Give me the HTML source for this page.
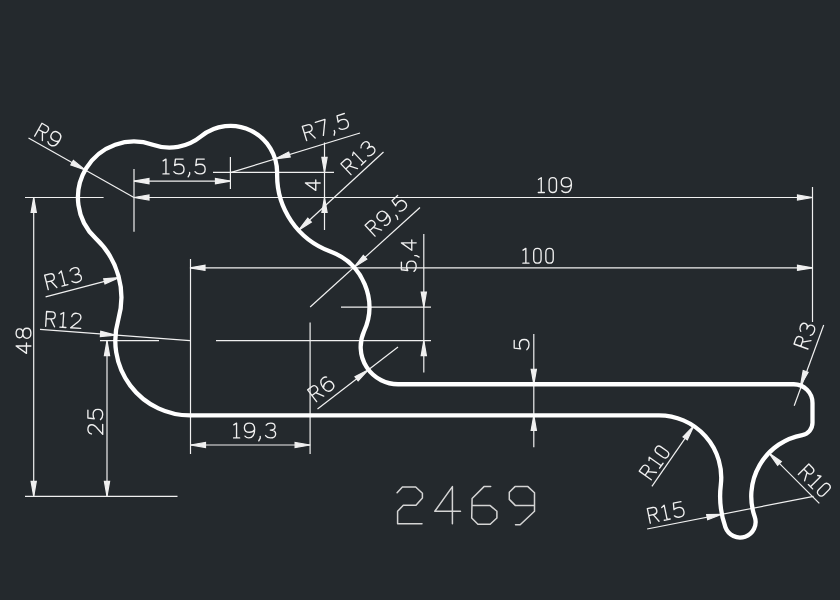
<!DOCTYPE html>
<html><head><meta charset="utf-8"><style>
html,body{margin:0;padding:0;background:#24292d;}
body{width:840px;height:600px;overflow:hidden;font-family:"Liberation Sans",sans-serif;}
svg{display:block;}
</style></head><body>
<svg width="840" height="600" viewBox="0 0 840 600">
<rect width="840" height="600" fill="#24292d"/>
<g stroke="#f0f0f0" stroke-width="1.2" fill="#f0f0f0">
<line x1="133.98" y1="197.50" x2="812.50" y2="197.50"/>
<polygon points="133.98,197.50 148.98,194.90 148.98,200.10"/>
<polygon points="812.50,197.50 797.50,200.10 797.50,194.90"/>
<line x1="190.00" y1="267.80" x2="812.50" y2="267.80"/>
<polygon points="190.00,267.80 205.00,265.20 205.00,270.40"/>
<polygon points="812.50,267.80 797.50,270.40 797.50,265.20"/>
<line x1="812.50" y1="187.00" x2="812.50" y2="322.00"/>
<line x1="190.50" y1="259.00" x2="190.50" y2="454.00"/>
<line x1="33.70" y1="197.50" x2="33.70" y2="496.30"/>
<polygon points="33.70,197.50 36.30,212.50 31.10,212.50"/>
<polygon points="33.70,496.30 31.10,481.30 36.30,481.30"/>
<line x1="25.00" y1="197.50" x2="103.60" y2="197.50"/>
<line x1="25.00" y1="496.30" x2="177.50" y2="496.30"/>
<line x1="107.00" y1="340.67" x2="107.00" y2="496.30"/>
<polygon points="107.00,340.67 109.60,355.67 104.40,355.67"/>
<polygon points="107.00,496.30 104.40,481.30 109.60,481.30"/>
<line x1="100.00" y1="340.67" x2="159.00" y2="340.67"/>
<line x1="190.50" y1="445.00" x2="310.10" y2="445.00"/>
<polygon points="190.50,445.00 205.50,442.40 205.50,447.60"/>
<polygon points="310.10,445.00 295.10,447.60 295.10,442.40"/>
<line x1="310.10" y1="322.50" x2="310.10" y2="454.00"/>
<line x1="216.00" y1="340.67" x2="431.00" y2="340.67"/>
<line x1="423.80" y1="234.00" x2="423.80" y2="372.50"/>
<polygon points="423.80,307.06 421.20,292.06 426.40,292.06"/>
<polygon points="423.80,340.67 426.40,355.67 421.20,355.67"/>
<line x1="341.00" y1="307.06" x2="431.00" y2="307.06"/>
<line x1="133.98" y1="181.10" x2="230.46" y2="181.10"/>
<polygon points="133.98,181.10 148.98,178.50 148.98,183.70"/>
<polygon points="230.46,181.10 215.46,183.70 215.46,178.50"/>
<line x1="134.00" y1="169.00" x2="134.00" y2="231.80"/>
<line x1="230.40" y1="157.00" x2="230.40" y2="189.00"/>
<line x1="213.00" y1="172.30" x2="334.00" y2="172.30"/>
<line x1="324.50" y1="142.50" x2="324.50" y2="230.00"/>
<polygon points="324.50,172.30 321.90,157.30 327.10,157.30"/>
<polygon points="324.50,197.50 327.10,212.50 321.90,212.50"/>
<line x1="28.50" y1="138.00" x2="133.98" y2="197.50"/>
<polygon points="85.18,169.97 70.82,164.92 73.36,160.38"/>
<line x1="230.46" y1="172.60" x2="360.00" y2="133.00"/>
<polygon points="275.11,158.95 288.69,152.08 290.22,157.05"/>
<line x1="298.51" y1="230.26" x2="383.50" y2="152.00"/>
<polygon points="298.51,230.26 307.79,218.19 311.31,222.01"/>
<line x1="310.14" y1="307.06" x2="420.00" y2="207.50"/>
<polygon points="353.96,267.35 363.33,255.35 366.82,259.20"/>
<line x1="317.50" y1="409.00" x2="398.02" y2="346.90"/>
<polygon points="368.44,369.71 358.15,380.93 354.98,376.81"/>
<line x1="533.80" y1="334.00" x2="533.80" y2="447.20"/>
<polygon points="533.80,384.25 531.20,369.25 536.40,369.25"/>
<polygon points="533.80,415.37 536.40,430.37 531.20,430.37"/>
<line x1="794.20" y1="405.80" x2="823.70" y2="325.00"/>
<polygon points="800.51,385.49 803.21,370.51 808.10,372.29"/>
<line x1="651.90" y1="486.30" x2="693.71" y2="425.95"/>
<polygon points="693.71,425.95 687.30,439.76 683.03,436.80"/>
<line x1="768.88" y1="452.89" x2="819.30" y2="503.30"/>
<polygon points="768.88,452.89 781.33,461.66 777.65,465.34"/>
<line x1="647.10" y1="529.00" x2="813.50" y2="496.30"/>
<polygon points="721.88,514.31 707.66,519.75 706.66,514.65"/>
<line x1="45.60" y1="296.90" x2="118.90" y2="277.64"/>
<polygon points="118.90,277.64 105.00,283.85 103.73,278.81"/>
<line x1="40.00" y1="329.40" x2="190.00" y2="340.67"/>
<polygon points="115.51,335.08 100.36,336.54 100.75,331.36"/>
</g>
<g transform="translate(537.10,193.80) rotate(0.00) translate(0.6,-1.3) scale(1.4800)" fill="none" stroke="#f0f0f0" stroke-width="0.912" stroke-linecap="round" stroke-linejoin="round"><path transform="translate(0.00,0)" d="M0.5,-8.8 L2.4,-10 V0 M0.4,0 H4.5"/><path transform="translate(7.70,0)" d="M0,-7.3 C0,-9.1 1,-10 2.5,-10 C4,-10 5,-9.1 5,-7.3 V-2.7 C5,-0.9 4,0 2.5,0 C1,0 0,-0.9 0,-2.7 Z"/><path transform="translate(15.90,0)" d="M6.9,-5.6 C6.3,-4.5 5.2,-3.8 3.5,-3.8 C1.3,-3.8 0,-5.1 0,-6.9 C0,-8.8 1.4,-10 3.5,-10 C5.7,-10 6.9,-8.6 6.9,-5.6 C6.9,-2 5.4,0 3,0 C1.9,0 1,-0.4 0.4,-1.2"/></g>
<g transform="translate(521.70,264.50) rotate(0.00) translate(0.6,-1.3) scale(1.4800)" fill="none" stroke="#f0f0f0" stroke-width="0.912" stroke-linecap="round" stroke-linejoin="round"><path transform="translate(0.00,0)" d="M0.5,-8.8 L2.4,-10 V0 M0.4,0 H4.5"/><path transform="translate(7.70,0)" d="M0,-7.3 C0,-9.1 1,-10 2.5,-10 C4,-10 5,-9.1 5,-7.3 V-2.7 C5,-0.9 4,0 2.5,0 C1,0 0,-0.9 0,-2.7 Z"/><path transform="translate(15.90,0)" d="M0,-7.3 C0,-9.1 1,-10 2.5,-10 C4,-10 5,-9.1 5,-7.3 V-2.7 C5,-0.9 4,0 2.5,0 C1,0 0,-0.9 0,-2.7 Z"/></g>
<g transform="translate(32.20,354.00) rotate(-90.00) translate(0.6,-1.3) scale(1.4800)" fill="none" stroke="#f0f0f0" stroke-width="0.912" stroke-linecap="round" stroke-linejoin="round"><path transform="translate(0.00,0)" d="M5,0 V-10 L0,-3 H7"/><path transform="translate(10.20,0)" d="M3.4,-5.4 C1.5,-5.4 0.4,-6.3 0.4,-7.7 C0.4,-9.1 1.6,-10 3.4,-10 C5.2,-10 6.4,-9.1 6.4,-7.7 C6.4,-6.3 5.3,-5.4 3.4,-5.4 C1.3,-5.4 0,-4.4 0,-2.7 C0,-1 1.3,0 3.4,0 C5.5,0 6.8,-1 6.8,-2.7 C6.8,-4.4 5.5,-5.4 3.4,-5.4 Z"/></g>
<g transform="translate(104.00,435.00) rotate(-90.00) translate(0.6,-1.3) scale(1.4800)" fill="none" stroke="#f0f0f0" stroke-width="0.912" stroke-linecap="round" stroke-linejoin="round"><path transform="translate(0.00,0)" d="M0.3,-7.6 C0.6,-9.2 1.8,-10 3.4,-10 C5.3,-10 6.5,-8.9 6.5,-7.3 C6.5,-5.8 5.6,-4.8 3.8,-3.4 L0,0 H6.8"/><path transform="translate(10.00,0)" d="M6.3,-10 H1.1 L0.6,-5.7 C1.4,-6.3 2.4,-6.5 3.4,-6.5 C5.6,-6.5 6.9,-5.1 6.9,-3.2 C6.9,-1.2 5.5,0 3.4,0 C1.8,0 0.7,-0.5 0,-1.5"/></g>
<g transform="translate(232.40,439.20) rotate(0.00) translate(0.6,-1.3) scale(1.4800)" fill="none" stroke="#f0f0f0" stroke-width="0.912" stroke-linecap="round" stroke-linejoin="round"><path transform="translate(0.00,0)" d="M0.5,-8.8 L2.4,-10 V0 M0.4,0 H4.5"/><path transform="translate(7.70,0)" d="M6.9,-5.6 C6.3,-4.5 5.2,-3.8 3.5,-3.8 C1.3,-3.8 0,-5.1 0,-6.9 C0,-8.8 1.4,-10 3.5,-10 C5.7,-10 6.9,-8.6 6.9,-5.6 C6.9,-2 5.4,0 3,0 C1.9,0 1,-0.4 0.4,-1.2"/><path transform="translate(17.20,0)" d="M1.2,-1 V0.2 L0.2,2"/><path transform="translate(22.00,0)" d="M0.4,-8.6 C1,-9.6 2.2,-10 3.5,-10 C5.3,-10 6.4,-9 6.4,-7.6 C6.4,-6.1 5.2,-5.3 3.2,-5.3 C5.5,-5.3 6.8,-4.3 6.8,-2.7 C6.8,-1 5.4,0 3.4,0 C1.8,0 0.7,-0.6 0,-1.6"/></g>
<g transform="translate(417.50,272.00) rotate(-90.00) translate(0.6,-1.3) scale(1.4800)" fill="none" stroke="#f0f0f0" stroke-width="0.912" stroke-linecap="round" stroke-linejoin="round"><path transform="translate(0.00,0)" d="M6.3,-10 H1.1 L0.6,-5.7 C1.4,-6.3 2.4,-6.5 3.4,-6.5 C5.6,-6.5 6.9,-5.1 6.9,-3.2 C6.9,-1.2 5.5,0 3.4,0 C1.8,0 0.7,-0.5 0,-1.5"/><path transform="translate(9.50,0)" d="M1.2,-1 V0.2 L0.2,2"/><path transform="translate(14.30,0)" d="M5,0 V-10 L0,-3 H7"/></g>
<g transform="translate(161.80,175.20) rotate(0.00) translate(0.6,-1.3) scale(1.4800)" fill="none" stroke="#f0f0f0" stroke-width="0.912" stroke-linecap="round" stroke-linejoin="round"><path transform="translate(0.00,0)" d="M0.5,-8.8 L2.4,-10 V0 M0.4,0 H4.5"/><path transform="translate(7.70,0)" d="M6.3,-10 H1.1 L0.6,-5.7 C1.4,-6.3 2.4,-6.5 3.4,-6.5 C5.6,-6.5 6.9,-5.1 6.9,-3.2 C6.9,-1.2 5.5,0 3.4,0 C1.8,0 0.7,-0.5 0,-1.5"/><path transform="translate(17.20,0)" d="M1.2,-1 V0.2 L0.2,2"/><path transform="translate(22.00,0)" d="M6.3,-10 H1.1 L0.6,-5.7 C1.4,-6.3 2.4,-6.5 3.4,-6.5 C5.6,-6.5 6.9,-5.1 6.9,-3.2 C6.9,-1.2 5.5,0 3.4,0 C1.8,0 0.7,-0.5 0,-1.5"/></g>
<g transform="translate(321.50,191.00) rotate(-90.00) translate(0.6,-1.3) scale(1.4800)" fill="none" stroke="#f0f0f0" stroke-width="0.912" stroke-linecap="round" stroke-linejoin="round"><path transform="translate(0.00,0)" d="M5,0 V-10 L0,-3 H7"/></g>
<g transform="translate(33.50,137.00) rotate(29.50) translate(0.6,-1.3) scale(1.4800)" fill="none" stroke="#f0f0f0" stroke-width="0.912" stroke-linecap="round" stroke-linejoin="round"><path transform="translate(0.00,0)" d="M0,0 V-10 H3.7 C5.3,-10 6,-9.1 6,-7.6 C6,-6.1 5.3,-5.2 3.7,-5.2 H0 M3.1,-5.2 L6,0"/><path transform="translate(9.20,0)" d="M6.9,-5.6 C6.3,-4.5 5.2,-3.8 3.5,-3.8 C1.3,-3.8 0,-5.1 0,-6.9 C0,-8.8 1.4,-10 3.5,-10 C5.7,-10 6.9,-8.6 6.9,-5.6 C6.9,-2 5.4,0 3,0 C1.9,0 1,-0.4 0.4,-1.2"/></g>
<g transform="translate(306.50,142.00) rotate(-17.10) translate(0.6,-1.3) scale(1.4800)" fill="none" stroke="#f0f0f0" stroke-width="0.912" stroke-linecap="round" stroke-linejoin="round"><path transform="translate(0.00,0)" d="M0,0 V-10 H3.7 C5.3,-10 6,-9.1 6,-7.6 C6,-6.1 5.3,-5.2 3.7,-5.2 H0 M3.1,-5.2 L6,0"/><path transform="translate(9.20,0)" d="M0,-10 H6.8 L2.6,0"/><path transform="translate(18.60,0)" d="M1.2,-1 V0.2 L0.2,2"/><path transform="translate(23.40,0)" d="M6.3,-10 H1.1 L0.6,-5.7 C1.4,-6.3 2.4,-6.5 3.4,-6.5 C5.6,-6.5 6.9,-5.1 6.9,-3.2 C6.9,-1.2 5.5,0 3.4,0 C1.8,0 0.7,-0.5 0,-1.5"/></g>
<g transform="translate(351.50,176.00) rotate(-43.20) translate(0.6,-1.3) scale(1.4800)" fill="none" stroke="#f0f0f0" stroke-width="0.912" stroke-linecap="round" stroke-linejoin="round"><path transform="translate(0.00,0)" d="M0,0 V-10 H3.7 C5.3,-10 6,-9.1 6,-7.6 C6,-6.1 5.3,-5.2 3.7,-5.2 H0 M3.1,-5.2 L6,0"/><path transform="translate(9.20,0)" d="M0.5,-8.8 L2.4,-10 V0 M0.4,0 H4.5"/><path transform="translate(16.90,0)" d="M0.4,-8.6 C1,-9.6 2.2,-10 3.5,-10 C5.3,-10 6.4,-9 6.4,-7.6 C6.4,-6.1 5.2,-5.3 3.2,-5.3 C5.5,-5.3 6.8,-4.3 6.8,-2.7 C6.8,-1 5.4,0 3.4,0 C1.8,0 0.7,-0.6 0,-1.6"/></g>
<g transform="translate(375.50,237.50) rotate(-42.40) translate(0.6,-1.3) scale(1.4800)" fill="none" stroke="#f0f0f0" stroke-width="0.912" stroke-linecap="round" stroke-linejoin="round"><path transform="translate(0.00,0)" d="M0,0 V-10 H3.7 C5.3,-10 6,-9.1 6,-7.6 C6,-6.1 5.3,-5.2 3.7,-5.2 H0 M3.1,-5.2 L6,0"/><path transform="translate(9.20,0)" d="M6.9,-5.6 C6.3,-4.5 5.2,-3.8 3.5,-3.8 C1.3,-3.8 0,-5.1 0,-6.9 C0,-8.8 1.4,-10 3.5,-10 C5.7,-10 6.9,-8.6 6.9,-5.6 C6.9,-2 5.4,0 3,0 C1.9,0 1,-0.4 0.4,-1.2"/><path transform="translate(18.70,0)" d="M1.2,-1 V0.2 L0.2,2"/><path transform="translate(23.50,0)" d="M6.3,-10 H1.1 L0.6,-5.7 C1.4,-6.3 2.4,-6.5 3.4,-6.5 C5.6,-6.5 6.9,-5.1 6.9,-3.2 C6.9,-1.2 5.5,0 3.4,0 C1.8,0 0.7,-0.5 0,-1.5"/></g>
<g transform="translate(317.00,403.00) rotate(-37.70) translate(0.6,-1.3) scale(1.4800)" fill="none" stroke="#f0f0f0" stroke-width="0.912" stroke-linecap="round" stroke-linejoin="round"><path transform="translate(0.00,0)" d="M0,0 V-10 H3.7 C5.3,-10 6,-9.1 6,-7.6 C6,-6.1 5.3,-5.2 3.7,-5.2 H0 M3.1,-5.2 L6,0"/><path transform="translate(9.20,0)" d="M6.2,-9 C5.6,-9.7 4.6,-10 3.6,-10 C1.2,-10 0,-7.8 0,-4.6 C0,-1.5 1.3,0 3.5,0 C5.6,0 6.9,-1.3 6.9,-3.2 C6.9,-5.1 5.6,-6.3 3.5,-6.3 C1.8,-6.3 0.6,-5.5 0,-4.3"/></g>
<g transform="translate(530.30,350.30) rotate(-90.00) translate(0.6,-1.3) scale(1.4800)" fill="none" stroke="#f0f0f0" stroke-width="0.912" stroke-linecap="round" stroke-linejoin="round"><path transform="translate(0.00,0)" d="M6.3,-10 H1.1 L0.6,-5.7 C1.4,-6.3 2.4,-6.5 3.4,-6.5 C5.6,-6.5 6.9,-5.1 6.9,-3.2 C6.9,-1.2 5.5,0 3.4,0 C1.8,0 0.7,-0.5 0,-1.5"/></g>
<g transform="translate(809.00,350.00) rotate(-70.30) translate(0.6,-1.3) scale(1.4800)" fill="none" stroke="#f0f0f0" stroke-width="0.912" stroke-linecap="round" stroke-linejoin="round"><path transform="translate(0.00,0)" d="M0,0 V-10 H3.7 C5.3,-10 6,-9.1 6,-7.6 C6,-6.1 5.3,-5.2 3.7,-5.2 H0 M3.1,-5.2 L6,0"/><path transform="translate(9.20,0)" d="M0.4,-8.6 C1,-9.6 2.2,-10 3.5,-10 C5.3,-10 6.4,-9 6.4,-7.6 C6.4,-6.1 5.2,-5.3 3.2,-5.3 C5.5,-5.3 6.8,-4.3 6.8,-2.7 C6.8,-1 5.4,0 3.4,0 C1.8,0 0.7,-0.6 0,-1.6"/></g>
<g transform="translate(652.00,481.00) rotate(-54.50) translate(0.6,-1.3) scale(1.4800)" fill="none" stroke="#f0f0f0" stroke-width="0.912" stroke-linecap="round" stroke-linejoin="round"><path transform="translate(0.00,0)" d="M0,0 V-10 H3.7 C5.3,-10 6,-9.1 6,-7.6 C6,-6.1 5.3,-5.2 3.7,-5.2 H0 M3.1,-5.2 L6,0"/><path transform="translate(9.20,0)" d="M0.5,-8.8 L2.4,-10 V0 M0.4,0 H4.5"/><path transform="translate(16.90,0)" d="M0,-7.3 C0,-9.1 1,-10 2.5,-10 C4,-10 5,-9.1 5,-7.3 V-2.7 C5,-0.9 4,0 2.5,0 C1,0 0,-0.9 0,-2.7 Z"/></g>
<g transform="translate(797.00,475.00) rotate(45.20) translate(0.6,-1.3) scale(1.4800)" fill="none" stroke="#f0f0f0" stroke-width="0.912" stroke-linecap="round" stroke-linejoin="round"><path transform="translate(0.00,0)" d="M0,0 V-10 H3.7 C5.3,-10 6,-9.1 6,-7.6 C6,-6.1 5.3,-5.2 3.7,-5.2 H0 M3.1,-5.2 L6,0"/><path transform="translate(9.20,0)" d="M0.5,-8.8 L2.4,-10 V0 M0.4,0 H4.5"/><path transform="translate(16.90,0)" d="M0,-7.3 C0,-9.1 1,-10 2.5,-10 C4,-10 5,-9.1 5,-7.3 V-2.7 C5,-0.9 4,0 2.5,0 C1,0 0,-0.9 0,-2.7 Z"/></g>
<g transform="translate(650.00,524.50) rotate(-11.70) translate(0.6,-1.3) scale(1.4800)" fill="none" stroke="#f0f0f0" stroke-width="0.912" stroke-linecap="round" stroke-linejoin="round"><path transform="translate(0.00,0)" d="M0,0 V-10 H3.7 C5.3,-10 6,-9.1 6,-7.6 C6,-6.1 5.3,-5.2 3.7,-5.2 H0 M3.1,-5.2 L6,0"/><path transform="translate(9.20,0)" d="M0.5,-8.8 L2.4,-10 V0 M0.4,0 H4.5"/><path transform="translate(16.90,0)" d="M6.3,-10 H1.1 L0.6,-5.7 C1.4,-6.3 2.4,-6.5 3.4,-6.5 C5.6,-6.5 6.9,-5.1 6.9,-3.2 C6.9,-1.2 5.5,0 3.4,0 C1.8,0 0.7,-0.5 0,-1.5"/></g>
<g transform="translate(48.00,291.00) rotate(-14.10) translate(0.6,-1.3) scale(1.4800)" fill="none" stroke="#f0f0f0" stroke-width="0.912" stroke-linecap="round" stroke-linejoin="round"><path transform="translate(0.00,0)" d="M0,0 V-10 H3.7 C5.3,-10 6,-9.1 6,-7.6 C6,-6.1 5.3,-5.2 3.7,-5.2 H0 M3.1,-5.2 L6,0"/><path transform="translate(9.20,0)" d="M0.5,-8.8 L2.4,-10 V0 M0.4,0 H4.5"/><path transform="translate(16.90,0)" d="M0.4,-8.6 C1,-9.6 2.2,-10 3.5,-10 C5.3,-10 6.4,-9 6.4,-7.6 C6.4,-6.1 5.2,-5.3 3.2,-5.3 C5.5,-5.3 6.8,-4.3 6.8,-2.7 C6.8,-1 5.4,0 3.4,0 C1.8,0 0.7,-0.6 0,-1.6"/></g>
<g transform="translate(45.00,327.50) rotate(3.50) translate(0.6,-1.3) scale(1.4800)" fill="none" stroke="#f0f0f0" stroke-width="0.912" stroke-linecap="round" stroke-linejoin="round"><path transform="translate(0.00,0)" d="M0,0 V-10 H3.7 C5.3,-10 6,-9.1 6,-7.6 C6,-6.1 5.3,-5.2 3.7,-5.2 H0 M3.1,-5.2 L6,0"/><path transform="translate(9.20,0)" d="M0.5,-8.8 L2.4,-10 V0 M0.4,0 H4.5"/><path transform="translate(16.90,0)" d="M0.3,-7.6 C0.6,-9.2 1.8,-10 3.4,-10 C5.3,-10 6.5,-8.9 6.5,-7.3 C6.5,-5.8 5.6,-4.8 3.8,-3.4 L0,0 H6.8"/></g>
<g fill="none" stroke="#d4d4d4" stroke-width="1.5" stroke-linejoin="round" stroke-linecap="round"><path d="M397.1,492.8 L402.4,487 L415.7,487 L422.4,493.2 L422.4,498 L416,505.3 L403.3,505.3 L397.6,511.3 L397.6,523.7 L422,523.7"/><path d="M452.4,523.7 L452.4,486.6 L434.8,511.3 L460.5,511.3"/><path d="M490.7,486.6 L484,486.6 L472.1,498.5 L471.7,518 L477.9,524.2 L490.2,524.2 L496.9,518 L496.9,511.3 L490.2,505.6 L472.1,505.6"/><path d="M515.5,524.7 L520.2,524.7 L534.5,511.3 L534.5,492.8 L527.9,486.6 L515,486.6 L509.3,492.3 L509.3,499.4 L515.5,505.6 L534.5,505.6"/></g>
<path d="M152.78,144.73 A49.80,49.80 0 0 0 200.96,136.41 A46.69,46.69 0 0 1 277.14,173.64 A80.92,80.92 0 0 0 330.37,251.49 A59.14,59.14 0 0 1 364.00,331.48 A37.35,37.35 0 0 0 398.02,384.25 L793.83,384.25 A18.67,18.67 0 0 1 812.50,402.92 L812.50,422.82 A12.45,12.45 0 0 1 802.29,435.07 A62.25,62.25 0 0 0 754.78,516.98 A15.56,15.56 0 0 1 725.43,527.32 A93.38,93.38 0 0 1 720.80,485.09 A62.25,62.25 0 0 0 659.00,415.37 L190.00,415.37 A74.70,74.70 0 0 1 118.22,319.98 A80.92,80.92 0 0 0 95.72,238.43 A56.02,56.02 0 0 1 152.78,144.73 Z" fill="none" stroke="#ffffff" stroke-width="4.3" stroke-linejoin="round"/>
</svg>
</body></html>
